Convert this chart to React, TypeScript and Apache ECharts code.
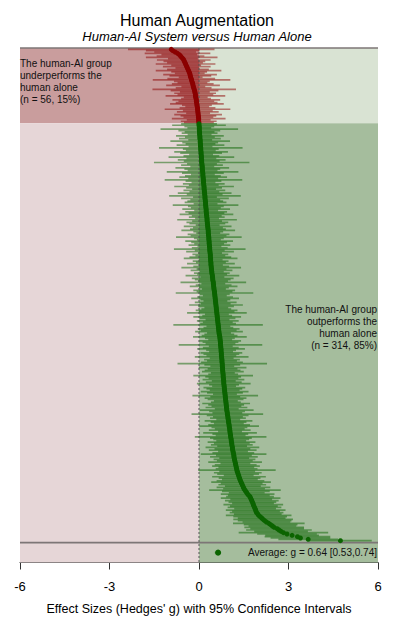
import React, { useEffect, useRef } from "react";
import * as echarts from "echarts";

// Effect sizes (Hedges' g), sorted ascending; red = human-AI underperforms
const redG = [
  -0.93, -0.88, -0.8, -0.72, -0.66, -0.62, -0.58, -0.54, -0.51, -0.49,
  -0.47, -0.45, -0.43, -0.41, -0.39, -0.37, -0.35, -0.33, -0.31, -0.3,
  -0.29, -0.28, -0.26, -0.25, -0.24, -0.22, -0.21, -0.2, -0.19, -0.18,
  -0.16, -0.15, -0.14, -0.13, -0.12, -0.12, -0.11, -0.1, -0.09, -0.09,
  -0.08, -0.07, -0.07, -0.06, -0.05, -0.05, -0.04, -0.04, -0.03, -0.03,
  -0.02, -0.02, -0.01, -0.01, -0.01, -0.003,
];
const greenG = [
  0.0, 0.0, 0.01, 0.01, 0.01, 0.01, 0.02, 0.02, 0.02, 0.03,
  0.03, 0.03, 0.04, 0.04, 0.04, 0.05, 0.05, 0.05, 0.06, 0.06,
  0.06, 0.07, 0.07, 0.07, 0.08, 0.08, 0.08, 0.09, 0.09, 0.09,
  0.1, 0.1, 0.11, 0.11, 0.11, 0.12, 0.12, 0.13, 0.13, 0.13,
  0.14, 0.14, 0.15, 0.15, 0.15, 0.16, 0.16, 0.17, 0.17, 0.17,
  0.18, 0.18, 0.19, 0.19, 0.2, 0.2, 0.2, 0.21, 0.21, 0.22,
  0.22, 0.22, 0.23, 0.23, 0.24, 0.24, 0.24, 0.25, 0.25, 0.26,
  0.26, 0.27, 0.27, 0.27, 0.28, 0.28, 0.29, 0.29, 0.3, 0.3,
  0.31, 0.31, 0.31, 0.32, 0.32, 0.33, 0.33, 0.33, 0.34, 0.34,
  0.34, 0.35, 0.35, 0.36, 0.36, 0.36, 0.37, 0.37, 0.38, 0.38,
  0.38, 0.39, 0.39, 0.39, 0.4, 0.4, 0.4, 0.41, 0.41, 0.42,
  0.42, 0.43, 0.43, 0.44, 0.45, 0.45, 0.46, 0.46, 0.47, 0.48,
  0.48, 0.49, 0.49, 0.5, 0.5, 0.51, 0.52, 0.52, 0.53, 0.53,
  0.54, 0.54, 0.55, 0.55, 0.56, 0.56, 0.57, 0.57, 0.58, 0.58,
  0.59, 0.59, 0.6, 0.6, 0.61, 0.61, 0.62, 0.62, 0.63, 0.63,
  0.64, 0.64, 0.65, 0.65, 0.66, 0.66, 0.67, 0.67, 0.68, 0.69,
  0.7, 0.7, 0.71, 0.71, 0.72, 0.72, 0.72, 0.73, 0.73, 0.74,
  0.74, 0.74, 0.75, 0.75, 0.75, 0.76, 0.76, 0.77, 0.77, 0.77,
  0.78, 0.78, 0.78, 0.79, 0.79, 0.79, 0.8, 0.8, 0.81, 0.81,
  0.81, 0.82, 0.82, 0.83, 0.83, 0.83, 0.84, 0.84, 0.85, 0.85,
  0.86, 0.86, 0.87, 0.87, 0.88, 0.88, 0.89, 0.89, 0.9, 0.9,
  0.91, 0.91, 0.92, 0.92, 0.93, 0.93, 0.94, 0.95, 0.95, 0.96,
  0.97, 0.97, 0.98, 0.99, 0.99, 1.0, 1.01, 1.01, 1.02, 1.03,
  1.03, 1.04, 1.04, 1.05, 1.06, 1.06, 1.07, 1.08, 1.08, 1.09,
  1.1, 1.1, 1.11, 1.12, 1.12, 1.13, 1.14, 1.15, 1.16, 1.17,
  1.17, 1.18, 1.19, 1.2, 1.21, 1.22, 1.23, 1.24, 1.25, 1.26,
  1.27, 1.28, 1.3, 1.31, 1.33, 1.34, 1.36, 1.37, 1.39, 1.41,
  1.43, 1.45, 1.47, 1.49, 1.51, 1.54, 1.57, 1.6, 1.63, 1.67,
  1.71, 1.73, 1.75, 1.77, 1.79, 1.81, 1.82, 1.84, 1.86, 1.88,
  1.9, 1.91, 1.93, 1.97, 2.0, 2.05, 2.1, 2.15, 2.2, 2.26,
  2.34, 2.4, 2.46, 2.52, 2.62, 2.68, 2.75, 2.83, 2.95, 3.12,
  3.3, 3.4, 3.66, 4.74,
];
// Half-widths of the 95% confidence intervals
const redHalf = [
  1.45, 0.9, 0.7, 1.1, 0.6, 0.8, 1.2, 0.5, 0.9, 0.7,
  0.6, 1.0, 0.5, 0.8, 0.4, 0.7, 1.1, 0.6, 0.5, 0.9,
  0.7, 0.4, 0.8, 1.3, 0.6, 0.5, 0.7, 0.9, 0.4, 0.6,
  1.4, 0.8, 0.5, 0.7, 0.6, 1.0, 0.4, 0.5, 0.8, 0.6,
  0.7, 0.9, 0.5, 0.4, 0.6, 1.1, 0.5, 0.7, 0.4, 0.8,
  0.6, 0.5, 0.9, 0.4, 0.6, 0.5,
];
const greenHalf = [
  0.6, 0.9, 0.5, 0.4, 1.3, 0.7, 0.5, 0.6, 0.4, 0.8,
  0.5, 0.7, 0.4, 1.0, 0.6, 0.5, 0.8, 0.4, 1.4, 0.6,
  0.5, 0.9, 0.7, 0.4, 0.6, 1.1, 0.5, 0.8, 0.6, 1.6,
  0.5, 0.7, 0.4, 0.9, 0.6, 0.5, 1.2, 0.7, 0.4, 0.6,
  0.8, 0.5, 1.3, 0.6, 0.4, 0.7, 0.5, 1.0, 0.6, 0.4,
  0.7, 0.5, 0.9, 0.6, 1.2, 0.4, 0.8, 0.5, 0.6, 0.7,
  0.4, 1.1, 0.6, 0.5, 0.8, 0.4, 0.7, 0.6, 0.9, 0.5,
  0.6, 0.4, 1.0, 0.5, 0.7, 0.6, 0.4, 0.8, 0.5, 0.6,
  0.9, 0.5, 0.4, 0.7, 0.6, 1.1, 0.5, 0.4, 0.8, 0.6,
  0.5, 0.7, 0.4, 0.6, 1.2, 0.5, 0.8, 0.4, 0.6, 0.5,
  0.7, 0.9, 0.4, 0.6, 0.5, 0.8, 0.4, 0.6, 1.0, 0.5,
  0.7, 0.4, 0.6, 0.5, 0.9, 0.4, 0.7, 0.6, 0.5, 1.1,
  0.4, 0.6, 0.8, 0.5, 0.4, 0.7, 0.6, 1.3, 0.5, 0.4,
  0.6, 0.8, 0.5, 0.4, 0.7, 0.5, 0.9, 0.6, 0.4, 0.5,
  0.7, 0.6, 1.0, 0.4, 0.5, 0.8, 0.6, 0.4, 0.7, 0.5,
  0.6, 1.5, 0.4, 0.5, 0.7, 0.6, 0.8, 0.4, 0.5, 0.6,
  0.9, 0.5, 0.4, 0.7, 0.6, 0.5, 1.4, 0.4, 0.6, 0.8,
  0.5, 0.4, 0.7, 0.6, 0.5, 0.9, 0.4, 0.6, 0.5, 0.7,
  1.5, 0.6, 0.4, 0.8, 0.5, 0.6, 0.7, 0.4, 0.5, 1.0,
  0.6, 0.5, 0.7, 0.4, 0.6, 0.9, 0.5, 0.4, 0.7, 0.6,
  0.5, 0.8, 0.6, 0.4, 1.1, 0.5, 0.7, 0.6, 0.4, 0.5,
  0.8, 0.6, 0.5, 0.7, 0.4, 0.9, 0.6, 0.5, 1.2, 0.7,
  0.5, 0.6, 0.4, 0.8, 0.6, 0.5, 0.7, 1.0, 0.6, 0.5,
  0.7, 0.4, 0.9, 0.6, 0.5, 1.2, 0.7, 0.6, 0.5, 0.8,
  0.6, 0.7, 0.5, 0.9, 0.6, 0.8, 0.5, 0.7, 1.1, 0.6,
  0.8, 0.5, 0.7, 0.6, 0.9, 0.5, 0.7, 0.8, 0.6, 0.7,
  1.3, 0.6, 0.8, 0.7, 0.5, 0.9, 0.7, 0.6, 0.8, 1.0,
  0.7, 0.8, 0.6, 0.9, 0.7, 1.2, 0.8, 0.6, 0.9, 0.7,
  0.8, 1.0, 0.7, 0.9, 0.8, 0.7, 1.0, 0.8, 0.9, 0.7,
  1.0, 0.8, 0.9, 0.8, 1.1, 0.9, 0.8, 1.0, 0.9, 0.8,
  1.2, 0.9, 0.8, 1.0, 0.9, 1.1, 0.9, 1.5, 1.0, 0.9,
  1.1, 1.0, 1.0, 1.05,
];
const xTicks = [-6, -3, 0, 3, 6];
const avgG = 0.64;
const avgLo = 0.53;
const avgHi = 0.74;

const FONT = '"Liberation Sans", Arial, Helvetica, sans-serif';

export default function App() {
  const ref = useRef<HTMLDivElement>(null);
  useEffect(() => {
    document.body.style.margin = "0";
    const chart = echarts.init(ref.current as HTMLDivElement, null, { renderer: "svg" });
    const g = [...redG, ...greenG];
    const half = [...redHalf, ...greenHalf];
    const n = g.length;
    const nRed = redG.length;
    const nGreen = greenG.length;
    const pctRed = Math.round((nRed / n) * 100);
    const pctGreen = 100 - pctRed;
    const split = nRed - 0.5;
    const yMin = -1;
    const yMax = 385.4;
    const bottomLine = n + 0.5;
    const avgRow = n + 8;
    const xMin = xTicks[0];
    const xMax = xTicks[xTicks.length - 1];

    const bgColors = ["#c99d9d", "#d9e3d3", "#e6d6d7", "#a5bd9d"];
    const bgData = [
      [xMin, 0, yMin, split, 0],
      [0, xMax, yMin, split, 1],
      [xMin, 0, split, yMax, 2],
      [0, xMax, split, yMax, 3],
    ];
    const ciColors = ["rgba(139,0,0,0.5)", "rgba(10,100,0,0.5)"];
    const ciData: number[][] = g.map((v, i) => [v - half[i], v + half[i], i, v < 0 ? 0 : 1]);
    ciData.push([avgLo, avgHi, avgRow, 1]);
    const ptsRed = redG.map((v, i) => [v, i]);
    const ptsGreen = greenG.map((v, i) => [v, nRed + i]);
    const hLines = [[xMin, xMax, yMin], [xMin, xMax, bottomLine]];

    const rightLines = [
      "The human-AI group",
      "outperforms the",
      "human alone",
      `(n = ${nGreen}, ${pctGreen}%)`,
    ];

    chart.setOption({
      animation: false,
      title: {
        text: "Human Augmentation",
        subtext: "Human-AI System versus Human Alone",
        left: "center",
        top: 7,
        itemGap: 2,
        textStyle: { fontSize: 16, fontWeight: "normal", color: "#000", fontFamily: FONT },
        subtextStyle: { fontSize: 13, fontStyle: "italic", color: "#000", fontFamily: FONT },
      },
      grid: { left: 20, right: 16, top: 48, bottom: 67.5 },
      xAxis: {
        type: "value",
        min: xMin,
        max: xMax,
        interval: 3,
        splitLine: { show: false },
        axisLine: { show: true, onZero: false, lineStyle: { color: "#333", width: 1 } },
        axisTick: { show: true, length: 7, lineStyle: { color: "#333" } },
        axisLabel: { fontSize: 13, color: "#000", margin: 17, fontFamily: FONT },
        name: "Effect Sizes (Hedges' g) with 95% Confidence Intervals",
        nameLocation: "middle",
        nameGap: 40,
        nameTextStyle: { fontSize: 12.5, color: "#000", fontFamily: FONT },
      },
      yAxis: {
        type: "value",
        min: yMin,
        max: yMax,
        inverse: true,
        show: false,
      },
      series: [
        {
          type: "custom",
          data: bgData,
          silent: true,
          z: 1,
          renderItem: (_p: any, api: any) => {
            const p0 = api.coord([api.value(0), api.value(2)]);
            const p1 = api.coord([api.value(1), api.value(3)]);
            return {
              type: "rect",
              shape: {
                x: Math.min(p0[0], p1[0]),
                y: Math.min(p0[1], p1[1]),
                width: Math.abs(p1[0] - p0[0]),
                height: Math.abs(p1[1] - p0[1]),
              },
              style: { fill: bgColors[api.value(4)] },
            };
          },
        },
        {
          type: "custom",
          data: hLines,
          silent: true,
          z: 2,
          renderItem: (_p: any, api: any) => {
            const p0 = api.coord([api.value(0), api.value(2)]);
            const p1 = api.coord([api.value(1), api.value(2)]);
            return {
              type: "line",
              shape: { x1: p0[0], y1: p0[1], x2: p1[0], y2: p1[1] },
              style: { stroke: "#7d7676", lineWidth: 1.6 },
            };
          },
        },
        {
          type: "custom",
          data: ciData,
          silent: true,
          z: 3,
          renderItem: (_p: any, api: any) => {
            const p0 = api.coord([api.value(0), api.value(2)]);
            const p1 = api.coord([api.value(1), api.value(2)]);
            return {
              type: "line",
              shape: { x1: p0[0], y1: p0[1], x2: p1[0], y2: p1[1] },
              style: { stroke: ciColors[api.value(3)], lineWidth: 1.7 },
            };
          },
        },
        {
          type: "custom",
          data: [[0, yMin, yMax]],
          silent: true,
          z: 4,
          renderItem: (_p: any, api: any) => {
            const p0 = api.coord([api.value(0), api.value(1)]);
            const p1 = api.coord([api.value(0), api.value(2)]);
            return {
              type: "line",
              shape: { x1: p0[0], y1: p0[1], x2: p1[0], y2: p1[1] },
              style: { stroke: "#555", lineWidth: 1, lineDash: [2, 2] },
            };
          },
        },
        {
          type: "scatter",
          data: ptsRed,
          symbolSize: 5,
          z: 5,
          itemStyle: { color: "#8b0000", opacity: 1 },
        },
        {
          type: "scatter",
          data: ptsGreen,
          symbolSize: 5,
          z: 5,
          itemStyle: { color: "#0b6400", opacity: 1 },
        },
        {
          type: "scatter",
          data: [[avgG, avgRow]],
          symbolSize: 6,
          z: 5,
          itemStyle: { color: "#0b6400", opacity: 1 },
        },
      ],
      graphic: [
        {
          type: "text",
          left: 20,
          top: 57,
          z: 100,
          style: {
            text: `The human-AI group\nunderperforms the\nhuman alone\n(n = ${nRed}, ${pctRed}%)`,
            font: `10px ${FONT}`,
            lineHeight: 12,
            fill: "#111",
          },
        },
        ...rightLines.map((t, i) => ({
          type: "text",
          right: 17,
          top: 304 + i * 12,
          z: 100,
          style: {
            text: t,
            font: `10px ${FONT}`,
            fill: "#111",
          },
        })),
        {
          type: "text",
          right: 17,
          top: 547,
          z: 100,
          style: {
            text: `Average: g = ${avgG.toFixed(2)} [${avgLo.toFixed(2)},${avgHi.toFixed(2)}]`,
            font: `10px ${FONT}`,
            fill: "#111",
          },
        },
      ],
    });
    return () => chart.dispose();
  }, []);
  return <div ref={ref} style={{ width: 394, height: 630 }} />;
}
